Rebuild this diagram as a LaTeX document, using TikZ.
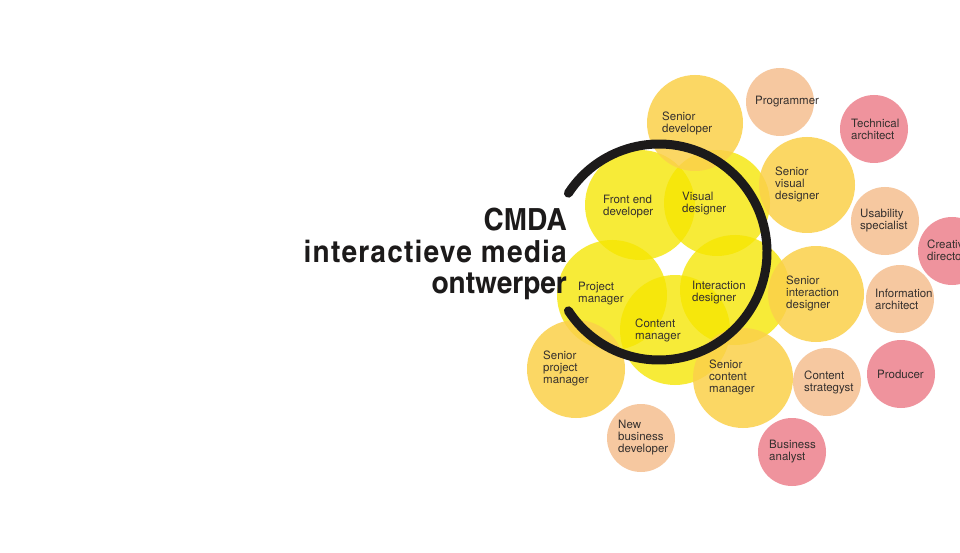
\documentclass[tikz,border=0pt]{standalone}
\usepackage{fontspec}
\setmainfont{TeX Gyre Heros}
\newfontfamily\titlefont{texgyreheroscn-bold.otf}[FakeStretch=1.12]
\usetikzlibrary{calc}

\definecolor{ringblack}{HTML}{1C1A1A}
\definecolor{labelgray}{HTML}{35302E}
\definecolor{brightyellow}{HTML}{F6E600}
\definecolor{senioryellow}{HTML}{FBD04A}
\definecolor{peach}{HTML}{F6C8A0}
\definecolor{pink}{HTML}{EF939D}

\begin{document}
\begin{tikzpicture}[x=1pt, y=-1pt,
    bubble/.style={circle, inner sep=0pt, draw=none},
    corebub/.style={bubble, fill=brightyellow, fill opacity=0.78},
    seniorbub/.style={bubble, fill=senioryellow, fill opacity=0.85},
    peachbub/.style={bubble, fill=peach, minimum size=68pt},
    pinkbub/.style={bubble, fill=pink, minimum size=68pt},
    lbl/.style={anchor=west, align=left, inner sep=0pt, text=labelgray,
      font=\fontsize{11.5}{12}\selectfont}]
    \useasboundingbox (0,0) rectangle (960,553);
    \clip (0,0) rectangle (960,553); % Creative director runs off the page
    \fill[white] (0,0) rectangle (960,553);

    % Core roles inside the ring
    \foreach \nm/\cx/\cy/\r in {
        fed/640/205/110, vd/717/203/106, pm/612/295/110,
        id/735/290/110, cm/675/330/110}{
      \node[corebub, minimum size=\r pt] (\nm) at (\cx,\cy) {};
    }
    % Senior roles round the ring
    \foreach \nm/\cx/\cy/\r in {
        sdev/695/123/96, svd/807/185/96, sid/816/294/96,
        scm/743/378/100, spm/576/369/98}{
      \node[seniorbub, minimum size=\r pt] (\nm) at (\cx,\cy) {};
    }
    % Outer ring of specialists
    \foreach \nm/\cx/\cy in {prog/780/102, usab/885/221, info/900/299,
        cstr/827/382, nbd/641/438}{
      \node[peachbub] (\nm) at (\cx,\cy) {};
    }
    \foreach \nm/\cx/\cy in {tech/874/129, crea/952/251, prod/901/374,
        ba/792/452}{
      \node[pinkbub] (\nm) at (\cx,\cy) {};
    }

    % Labels
    \foreach \nm/\lx/\ly/\txt in {
        fed/603/207/{Front end\\developer},
        vd/682/204/{Visual\\designer},
        pm/578/294/{Project\\manager},
        id/692/293/{Interaction\\designer},
        cm/635/330/{Content\\manager},
        sdev/662/123/{Senior\\developer},
        svd/775/184/{Senior\\visual\\designer},
        sid/786/293/{Senior\\interaction\\designer},
        scm/709/377/{Senior\\content\\manager},
        spm/543/368/{Senior\\project\\manager},
        prog/755/102/{Programmer},
        usab/860/221/{Usability\\specialist},
        info/875/299/{Information\\architect},
        cstr/804/382/{Content\\strategyst},
        nbd/618/438/{New\\business\\developer},
        tech/851/129/{Technical\\architect},
        crea/927/250/{Creative\\director},
        prod/877/374/{Producer},
        ba/769/452/{Business\\analyst}}{
      \node[lbl] (\nm-lbl) at (\lx,\ly) {\txt};
    }

    % The ring, open on the left
    \coordinate (RingCentre) at (659,252);
    \draw[ringblack, line width=9pt, line cap=round]
      ($(RingCentre)+(-147:108)$) arc[start angle=-147, end angle=147, radius=108];

    % Title
    \node[anchor=north east, align=right, inner sep=0pt, text=ringblack,
      font=\titlefont\fontsize{30.5}{31.5}\selectfont] (title) at (567,208)
      {CMDA\\{\addfontfeature{LetterSpace=4}interactieve media}\\ontwerper};
\end{tikzpicture}
\end{document}
